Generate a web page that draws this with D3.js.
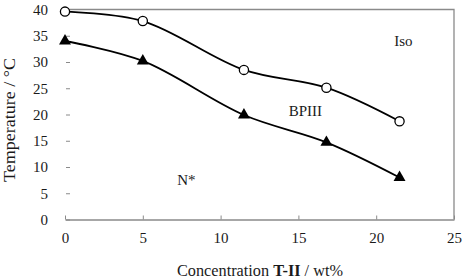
<!DOCTYPE html>
<html><head><meta charset="utf-8">
<script src="https://cdn.jsdelivr.net/npm/d3@7"></script>
<style>body{margin:0;background:#fff}svg{display:block}text{font-family:"Liberation Serif","Times New Roman",serif}</style>
</head><body>
<svg id="c" width="465" height="279"></svg>
<script>
const concentrations = [0, 5, 11.5, 16.8, 21.5];
const isoTemps = [39.6, 37.8, 28.5, 25.1, 18.7];
const n2Temps = [34.0, 30.2, 19.9, 14.7, 8.0];
const xTicks = [0, 5, 10, 15, 20, 25];
const yTicks = [0, 5, 10, 15, 20, 25, 30, 35, 40];
const regionLabels = [{t:"Iso", x:21.75, y:33}, {t:"BPIII", x:15.45, y:19.8}, {t:"N*", x:7.8, y:6.5}];

const svg = d3.select("#c");
const x = d3.scaleLinear().domain([0, 25]).range([65, 454]);
const y = d3.scaleLinear().domain([0, 40]).range([219.5, 9.5]);
const grey = "#8a8a8a";
const ink = "#1a1a1a";

svg.append("path").attr("d", `M${x(0)},${y(40)}H${x(25)}V${y(0)}`).attr("fill","none").attr("stroke",grey).attr("stroke-width",1.3);

const xa = svg.append("g").attr("transform", `translate(0,${y(0)})`)
  .call(d3.axisBottom(x).tickValues(xTicks).tickSizeInner(-4).tickSizeOuter(0).tickPadding(13));
xa.select(".domain").attr("stroke", grey).attr("stroke-width",1.5);
xa.selectAll(".tick line").attr("stroke", grey);
xa.selectAll("text").attr("font-size", 15).attr("fill",ink).attr("font-family","Liberation Serif");

const ya = svg.append("g").attr("transform", `translate(${x(0)},0)`)
  .call(d3.axisLeft(y).tickValues(yTicks).tickSizeInner(-4).tickSizeOuter(0).tickPadding(17));
ya.select(".domain").remove();
ya.selectAll(".tick line").attr("stroke", grey).attr("transform","translate(1,0)");
ya.selectAll("text").attr("font-size", 15).attr("fill",ink).attr("font-family","Liberation Serif");

const line = d3.line().x((d,i)=>x(concentrations[i])).y(d=>y(d)).curve(d3.curveCatmullRom.alpha(0.5));
[isoTemps, n2Temps].forEach(s => {
  svg.append("path").attr("d", line(s)).attr("fill","none").attr("stroke","#000").attr("stroke-width",1.8);
});

svg.selectAll(".circ").data(isoTemps).enter().append("circle")
  .attr("cx",(d,i)=>x(concentrations[i])).attr("cy",d=>y(d)).attr("r",4.6)
  .attr("fill","#fff").attr("stroke","#000").attr("stroke-width",1.3);

const tri = d3.symbol().type(d3.symbolTriangle).size(62);
svg.selectAll(".tri").data(n2Temps).enter().append("path")
  .attr("d", tri).attr("transform",(d,i)=>`translate(${x(concentrations[i])},${y(d)})`).attr("fill","#000");

svg.selectAll(".lab").data(regionLabels).enter().append("text")
  .attr("x",d=>x(d.x)).attr("y",d=>y(d.y)).attr("text-anchor","middle")
  .attr("font-size",15).attr("fill",ink).text(d=>d.t);

svg.append("text").attr("transform","translate(15,120) rotate(-90)").attr("text-anchor","middle")
  .attr("font-size",16).attr("textLength",124).attr("lengthAdjust","spacingAndGlyphs")
  .attr("fill",ink).text("Temperature / °C");

const xt = svg.append("text").attr("x",260).attr("y",276).attr("text-anchor","middle").attr("font-size",16)
  .attr("textLength",166).attr("lengthAdjust","spacingAndGlyphs").attr("fill",ink);
xt.append("tspan").text("Concentration ");
xt.append("tspan").attr("font-weight","bold").text("T-II");
xt.append("tspan").text(" / wt%");
</script>
</body></html>
